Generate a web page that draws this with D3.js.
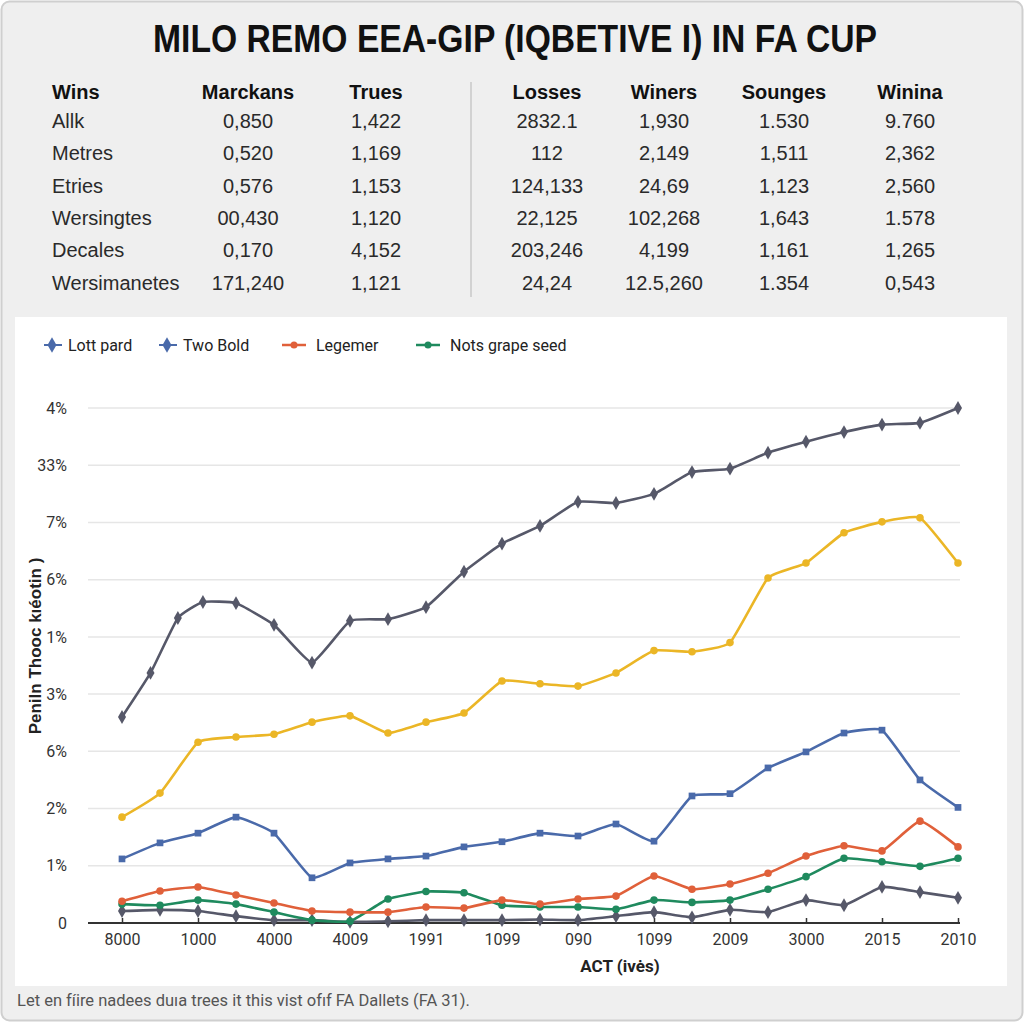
<!DOCTYPE html>
<html><head><meta charset="utf-8">
<script src="https://cdn.jsdelivr.net/npm/d3@7"></script>
<style>body{margin:0;background:#fff}svg{display:block}</style>
</head><body>
<svg id="c" width="1024" height="1024"></svg>
<script>
// ---------- data ----------
const title = "MILO REMO EEA-GIP (IQBETIVE I) IN FA CUP";
const tableHeaders = ["Wins","Marckans","Trues","Losses","Winers","Sounges","Winina"];
const rowLabels = ["Allk","Metres","Etries","Wersingtes","Decales","Wersimanetes"];
const colMarckans = ["0,850","0,520","0,576","00,430","0,170","171,240"];
const colTrues = ["1,422","1,169","1,153","1,120","4,152","1,121"];
const colLosses = ["2832.1","112","124,133","22,125","203,246","24,24"];
const colWiners = ["1,930","2,149","24,69","102,268","4,199","12.5,260"];
const colSounges = ["1.530","1,511","1,123","1,643","1,161","1.354"];
const colWinina = ["9.760","2,362","2,560","1.578","1,265","0,543"];

const xTickLabels = ["8000","1000","4000","4009","1991","1099","090","1099","2009","3000","2015","2010"];
const yTickLabels = ["0","1%","2%","6%","3%","1%","6%","7%","33%","4%"];
const yTitle = "Peniln Thooc kıéotin )";
const xTitle = "ACT (ivės)";
const footer = "Let en fíire nadees duıa trees it this vist ofıf FA Dallets (FA 31).";

const legendNames = ["Lott pard","Two Bold","Legemer","Nots grape seed"];

// positions on x are in period index units (0..22)
const idx = d3.range(23);
const topX = [0,0.75,1.47,2.13,3,4,5,6,7,8,9,10,11,12,13,14,15,16,17,18,19,20,21,22];
const topY = [3.60,4.37,5.33,5.61,5.59,5.21,4.55,5.28,5.31,5.52,6.14,6.63,6.94,7.36,7.34,7.50,7.88,7.94,8.22,8.41,8.58,8.71,8.74,9.00];
const yellowY = [1.85,2.27,3.16,3.25,3.30,3.51,3.62,3.32,3.51,3.67,4.23,4.18,4.14,4.37,4.76,4.74,4.90,6.03,6.29,6.82,7.01,7.08,6.29];
const blueY = [1.12,1.40,1.57,1.85,1.57,0.79,1.05,1.12,1.17,1.33,1.42,1.57,1.52,1.73,1.43,2.22,2.26,2.71,2.99,3.32,3.37,2.50,2.02];
const orangeY = [0.38,0.56,0.63,0.49,0.35,0.21,0.19,0.19,0.28,0.26,0.40,0.33,0.42,0.47,0.82,0.59,0.68,0.87,1.17,1.35,1.26,1.78,1.33];
const greenY = [0.33,0.31,0.40,0.33,0.19,0.05,0.03,0.42,0.55,0.53,0.31,0.28,0.28,0.24,0.40,0.36,0.40,0.59,0.81,1.13,1.07,0.99,1.13];
const bottomY = [0.21,0.23,0.21,0.12,0.05,0.05,0.02,0.03,0.05,0.05,0.05,0.06,0.05,0.12,0.19,0.10,0.23,0.19,0.40,0.31,0.63,0.54,0.44];

// ---------- drawing ----------
const svg = d3.select("#c");
svg.append("rect").attr("x",1.5).attr("y",1.5).attr("width",1021).attr("height",1019).attr("rx",8)
  .attr("fill","#efefef").attr("stroke","#cfcfcf").attr("stroke-width",2);

svg.append("text").attr("x",515).attr("y",52).attr("text-anchor","middle")
  .attr("font-family","'Liberation Sans Narrow','Liberation Sans',Arial,sans-serif")
  .attr("font-weight","bold").attr("font-size",38).attr("fill","#111")
  .attr("textLength",724).attr("lengthAdjust","spacingAndGlyphs").text(title);

// table
const colX = [52,248,376,547,664,784,910];
const cols = [rowLabels,colMarckans,colTrues,colLosses,colWiners,colSounges,colWinina];
const tbl = svg.append("g").attr("font-family","'Liberation Sans',Arial,sans-serif").attr("fill","#222");
tableHeaders.forEach((h,i)=>{
  tbl.append("text").attr("x",colX[i]).attr("y",99)
    .attr("text-anchor", i===0?"start":"middle").attr("font-weight","bold").attr("font-size",20)
    .attr("fill","#111").text(h);
});
cols.forEach((c,i)=>{
  c.forEach((v,r)=>{
    tbl.append("text").attr("x",colX[i]).attr("y",128+r*32.3)
      .attr("text-anchor", i===0?"start":"middle").attr("font-size",20).attr("fill","#2a2a2a").text(v);
  });
});
svg.append("line").attr("x1",471).attr("x2",471).attr("y1",82).attr("y2",297).attr("stroke","#c8c8c8").attr("stroke-width",1.5);

// chart panel
svg.append("rect").attr("x",15).attr("y",317).attr("width",992).attr("height",669).attr("fill","#fff");

const x = d3.scaleLinear().domain([0,22]).range([122,958]);
const y = d3.scaleLinear().domain([0,9]).range([923,408]);

// grid
const g = svg.append("g");
g.selectAll("line.grid").data(d3.range(1,10)).join("line")
  .attr("x1",88).attr("x2",960).attr("y1",d=>y(d)).attr("y2",d=>y(d))
  .attr("stroke","#e6e6e6").attr("stroke-width",1.5);

// y axis labels
const yAxis = d3.axisLeft(y).tickValues(d3.range(0,10)).tickFormat(d=>yTickLabels[d]).tickSize(0).tickPadding(0);
const ya = svg.append("g").attr("transform","translate(67,0)").call(yAxis);
ya.select(".domain").remove();
ya.selectAll("text").attr("font-family","Roboto,'Liberation Sans',Arial,sans-serif").attr("font-size",16).attr("fill","#333");

// x axis
const xAxis = d3.axisBottom(x).tickValues(d3.range(0,23,2)).tickFormat((d,i)=>xTickLabels[i]).tickSize(5).tickPadding(6);
const xa = svg.append("g").attr("transform","translate(0,923)").call(xAxis);
xa.select(".domain").attr("d","M88,0H960").attr("stroke","#333").attr("stroke-width",2);
xa.selectAll(".tick line").attr("stroke","#333").attr("y2",-5).attr("stroke-width",1.5);
xa.selectAll("text").attr("font-family","Roboto,'Liberation Sans',Arial,sans-serif").attr("font-size",16).attr("fill","#333");

// titles
svg.append("text").attr("transform","translate(41,646) rotate(-90)").attr("text-anchor","middle")
  .attr("font-family","'Liberation Sans',Arial,sans-serif").attr("font-weight","bold").attr("font-size",17).attr("fill","#222").text(yTitle);
svg.append("text").attr("x",620).attr("y",972).attr("text-anchor","middle")
  .attr("font-family","Roboto,'Liberation Sans',Arial,sans-serif").attr("font-weight","bold").attr("font-size",17).attr("fill","#222").text(xTitle);

// series
const series = [
  {xs: idx, ys: bottomY, color:"#565869", sym:d3.symbolDiamond},
  {xs: idx, ys: greenY, color:"#1f8a5e", sym:d3.symbolCircle},
  {xs: idx, ys: orangeY, color:"#e0603a", sym:d3.symbolCircle},
  {xs: idx, ys: blueY, color:"#4a6aaa", sym:d3.symbolSquare},
  {xs: idx, ys: yellowY, color:"#ebb626", sym:d3.symbolCircle},
  {xs: topX, ys: topY, color:"#565869", sym:d3.symbolDiamond},
];
const line = d3.line().x(d=>x(d[0])).y(d=>y(d[1])).curve(d3.curveCardinal.tension(0.6));
series.forEach(s=>{
  const pts = s.xs.map((xv,i)=>[xv,s.ys[i]]);
  svg.append("path").attr("d",line(pts)).attr("fill","none").attr("stroke",s.color).attr("stroke-width",2.6).attr("stroke-linejoin","round");
  svg.append("g").selectAll("path").data(pts).join("path")
    .attr("transform",d=>`translate(${x(d[0])},${y(d[1])})`)
    .attr("d",d3.symbol().type(s.sym).size(s.sym===d3.symbolDiamond?55:45)).attr("fill",s.color);
});

// legend
const lg = svg.append("g").attr("font-family","Roboto,'Liberation Sans',Arial,sans-serif").attr("font-size",16).attr("fill","#222");
const legendItems = [
  {x:52, color:"#4a6aaa", type:"diamond"},
  {x:167, color:"#4a6aaa", type:"diamond"},
  {x:294, color:"#e0603a", type:"line"},
  {x:428, color:"#1f8a5e", type:"line"},
];
legendItems.forEach((it,i)=>{
  const gy = 345;
  if(it.type==="line"){
    lg.append("line").attr("x1",it.x-12).attr("x2",it.x+12).attr("y1",gy).attr("y2",gy).attr("stroke",it.color).attr("stroke-width",2.5);
    lg.append("circle").attr("cx",it.x).attr("cy",gy).attr("r",3.5).attr("fill",it.color);
    lg.append("text").attr("x",it.x+22).attr("y",gy+6).text(legendNames[i]);
  } else {
    lg.append("line").attr("x1",it.x-8).attr("x2",it.x+10).attr("y1",gy).attr("y2",gy).attr("stroke",it.color).attr("stroke-width",2);
    lg.append("path").attr("transform",`translate(${it.x},${gy})`).attr("d",d3.symbol().type(d3.symbolDiamond).size(70)).attr("fill",it.color);
    lg.append("text").attr("x",it.x+16).attr("y",gy+6).text(legendNames[i]);
  }
});

// footer
svg.append("text").attr("x",17).attr("y",1006)
  .attr("font-family","Roboto,'Liberation Sans',Arial,sans-serif").attr("font-size",16.5).attr("fill","#555").text(footer);
</script>
</body></html>
